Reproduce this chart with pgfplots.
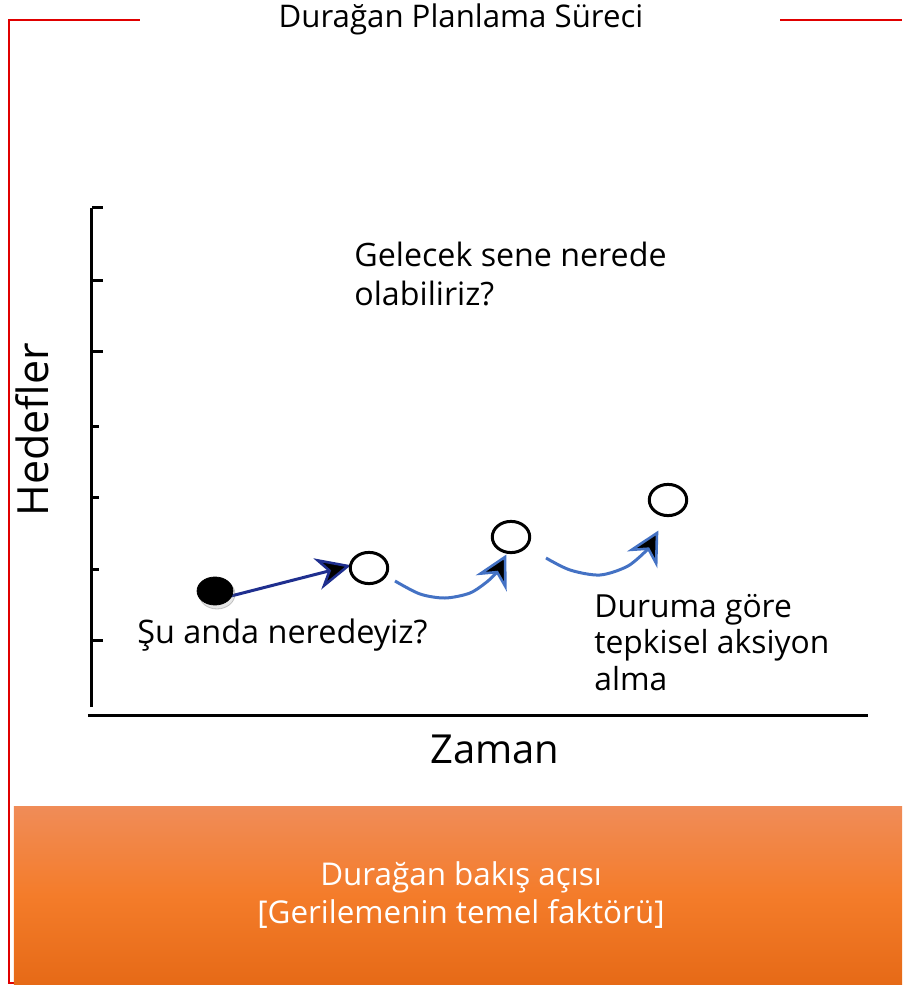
\documentclass[border=0pt]{standalone}
\usepackage{pgfplots}
\pgfplotsset{compat=1.18}
\usepackage{fontspec}
\setmainfont{Open Sans}
\definecolor{navy}{HTML}{1F2F8F}
\definecolor{curveblue}{HTML}{4472C4}
\definecolor{framered}{HTML}{E00000}
\definecolor{orTop}{HTML}{F08C58}
\definecolor{orMid}{HTML}{F47C2A}
\definecolor{orBot}{HTML}{E66A17}
\begin{document}
\begin{tikzpicture}
\begin{axis}[
  scale only axis, width=388pt, height=253.5pt,
  xmin=92, xmax=868, ymin=271, ymax=778,
  clip=false,
  axis x line*=bottom, axis y line*=left,
  axis line style={line width=1.5pt, -},
  x axis line style={shorten <=-2pt},
  y axis line style={shorten <=4pt},
  xtick=\empty,
  ytick={346,635,706,778}, minor ytick={417,489,560},
  yticklabels={},
  tick align=inside,
  major tick length=5.5pt, minor tick length=3.5pt,
  tick style={line width=1.5pt, black},
]
% frame and background box
\draw[framered, line width=1pt] (axis cs:140,966) -- (axis cs:9,966) -- (axis cs:9,3) -- (axis cs:14,3);
\draw[framered, line width=1pt] (axis cs:780,966) -- (axis cs:902,966);
\shade[top color=orTop, bottom color=orBot, middle color=orMid] (axis cs:14,2) rectangle (axis cs:902,180);
% data
\addplot[only marks, mark=*, mark size=7.5pt, mark options={xscale=1.2, fill=gray, draw=none, opacity=0.2}] coordinates {(217,392)};
\addplot[only marks, mark=*, mark size=7pt, mark options={xscale=1.28, fill=black, draw=black}] coordinates {(215,395)};
\addplot[navy, line width=1.5pt] coordinates {(231,390) (330,415.3)};
\draw[navy, line width=1.3pt, fill=black, line join=miter] (axis cs:348,420) -- (axis cs:317.7,425.6) -- (axis cs:329.6,415.3) -- (axis cs:324.1,400.5) -- cycle;
\addplot[only marks, mark=*, mark size=7.8pt, mark options={xscale=1.2, fill=white, draw=black, line width=1.5pt}] coordinates {(369,418) (511,449) (668,486)};
\addplot[curveblue, line width=1.5pt, smooth] coordinates {(395,405) (420,392) (445,388) (470,393) (488,405) (497,414)};
\draw[curveblue, line width=1.3pt, fill=black, line join=miter] (axis cs:505,429) -- (axis cs:480.5,412.4) -- (axis cs:497.1,413.9) -- (axis cs:505.4,399.4) -- cycle;
\addplot[curveblue, line width=1.5pt, smooth] coordinates {(546,428) (570,416) (600,411) (628,420) (648,437)};
\draw[curveblue, line width=1.3pt, fill=black, line join=miter] (axis cs:657,453) -- (axis cs:631.7,436.2) -- (axis cs:648.3,437.3) -- (axis cs:656.2,422.6) -- cycle;
% texts
\tikzset{txt/.style={inner sep=0pt}}
\node[txt, anchor=base, font=\fontsize{15.6}{18}\selectfont] at (axis cs:461,958) {Durağan Planlama Süreci};
\node[txt, anchor=base west, font=\fontsize{16.1}{18}\selectfont] at (axis cs:354,720) {Gelecek sene nerede};
\node[txt, anchor=base west, font=\fontsize{16.1}{18}\selectfont] at (axis cs:354,681) {olabiliriz?};
\node[txt, anchor=base west, font=\fontsize{16.2}{18}\selectfont] at (axis cs:137,343) {Şu anda neredeyiz?};
\node[txt, anchor=base west, font=\fontsize{15.9}{18}\selectfont] at (axis cs:594,369) {Duruma göre};
\node[txt, anchor=base west, font=\fontsize{15.9}{18}\selectfont] at (axis cs:594,333) {tepkisel aksiyon};
\node[txt, anchor=base west, font=\fontsize{15.9}{18}\selectfont] at (axis cs:594,296) {alma};
\node[txt, anchor=base, font=\fontsize{20}{24}\selectfont] at (axis cs:495,223) {Zaman};
\node[txt, anchor=base, rotate=90, font=\fontsize{21.5}{25}\selectfont] at (axis cs:49,556) {Hedefler};
\node[txt, anchor=base, text=white, font=\fontsize{15.7}{18}\selectfont] at (axis cs:461,101) {Durağan bakış açısı};
\node[txt, anchor=base, text=white, font=\fontsize{15.7}{18}\selectfont] at (axis cs:461,63) {[Gerilemenin temel faktörü]};
\coordinate (BL) at (axis cs:0,0);
\coordinate (TR) at (axis cs:902,986);
\end{axis}
\pgfresetboundingbox
\path[use as bounding box] (BL) rectangle (TR);
\end{tikzpicture}
\end{document}
